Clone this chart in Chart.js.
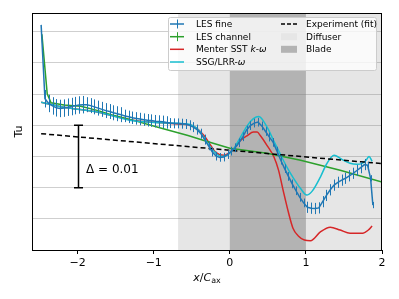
<!DOCTYPE html>
<html><head><meta charset="utf-8">
<script src="https://cdn.jsdelivr.net/npm/chart.js@4/dist/chart.umd.min.js"></script>
<style>html,body{margin:0;padding:0;background:#fff;}#wrap{width:399px;height:299px;}</style>
</head><body><div id="wrap"><canvas id="c" width="399" height="299"></canvas></div>
<script>
// ---------------- data ----------------
const seriesLabels = ['LES fine', 'LES channel', 'Menter SST k-ω', 'SSG/LRR-ω', 'Experiment (fit)'];
const regionLabels = ['Diffuser', 'Blade'];

const lesFineX = [-2.48,-2.43,-2.38,-2.33,-2.28,-2.23,-2.18,-2.13,-2.08,-2.03,-1.98,-1.93,-1.88,-1.83,-1.78,-1.73,-1.68,-1.63,-1.58,-1.53,-1.48,-1.43,-1.38,-1.33,-1.28,-1.23,-1.18,-1.13,-1.08,-1.03,-0.98,-0.93,-0.88,-0.83,-0.78,-0.73,-0.68,-0.63,-0.58,-0.53,-0.48,-0.43,-0.38,-0.33,-0.28,-0.23,-0.18,-0.13,-0.08,-0.03,0.02,0.07,0.12,0.17,0.22,0.27,0.32,0.37,0.42,0.47,0.52,0.57,0.62,0.67,0.72,0.77,0.82,0.87,0.92,0.97,1.02,1.07,1.12,1.17,1.22,1.27,1.32,1.37,1.42,1.47,1.52,1.57,1.62,1.67,1.72,1.77,1.81,1.85,1.88];
const lesFineTu = [0.0361,0.02425,0.0235,0.0231,0.0228,0.0227,0.02275,0.0229,0.0230,0.02315,0.02325,0.0233,0.0233,0.02315,0.02295,0.02275,0.02255,0.02235,0.0222,0.0220,0.02185,0.0217,0.0215,0.02135,0.0212,0.0211,0.0210,0.0209,0.0208,0.02075,0.02065,0.0206,0.02055,0.02045,0.02035,0.0203,0.0203,0.02025,0.0202,0.0200,0.0197,0.0193,0.01865,0.0177,0.0167,0.0157,0.01505,0.01485,0.0149,0.0153,0.01585,0.0164,0.0172,0.01815,0.01925,0.01995,0.02035,0.0205,0.0199,0.0190,0.0181,0.01725,0.01585,0.0144,0.01305,0.0118,0.0106,0.0095,0.00845,0.00755,0.00685,0.0067,0.00665,0.00675,0.00775,0.00875,0.00965,0.0104,0.01085,0.0112,0.0115,0.0119,0.0123,0.01275,0.0132,0.0137,0.0136,0.0115,0.0072];
const lesFineErr = [0,0.0014,0.0014,0.0014,0.0014,0.0014,0.0014,0.0014,0.0014,0.0014,0.0014,0.0014,0.0012,0.0012,0.0012,0.0012,0.0012,0.0012,0.0012,0.0012,0.0012,0.0012,0.001,0.001,0.001,0.001,0.001,0.001,0.001,0.001,0.001,0.001,0.001,0.001,0.0008,0.0008,0.0008,0.0008,0.0008,0.0008,0.0008,0.0008,0.0008,0.0008,0.0007,0.0007,0.0007,0.0007,0.0007,0.0007,0.0007,0.0007,0.0007,0.0007,0.0007,0.0007,0.0007,0.0007,0.0007,0.0007,0.0007,0.0007,0.0007,0.0007,0.0007,0.0007,0.0007,0.0007,0.0007,0.0007,0.0009,0.0009,0.0009,0.0009,0.0009,0.0009,0.0009,0.0009,0.0009,0.0009,0.0009,0.0009,0.0009,0.0009,0.0009,0.0009,0.0005,0.0005,0.0005];

const lesChannelX  = [-2.47,-2.40,-2.35,-2.18,-1.96,-1.73,-1.52,-1.30,-0.91,-0.55,-0.34,0.0,0.49,0.93,1.45,2.0];
const lesChannelTu = [0.0346,0.02505,0.0236,0.02325,0.02305,0.02235,0.02155,0.0209,0.01955,0.01835,0.01755,0.0163,0.0155,0.0144,0.0128,0.0109];

const menterX  = [-2.48,-2.18,-1.73,-1.30,-0.90,-0.61,-0.49,-0.43,-0.34,-0.25,-0.19,-0.08,0.03,0.14,0.23,0.31,0.36,0.40,0.49,0.58,0.64,0.70,0.77,0.83,0.90,0.98,1.06,1.19,1.32,1.45,1.58,1.75,1.82,1.87];
const menterTu = [0.0237,0.0229,0.0221,0.02085,0.0204,0.02015,0.01995,0.01945,0.01835,0.01675,0.0157,0.0152,0.01595,0.01755,0.01835,0.0189,0.0189,0.01835,0.01675,0.0149,0.0128,0.0096,0.00605,0.0035,0.00225,0.0016,0.0015,0.0029,0.00365,0.0032,0.0027,0.0027,0.0032,0.00385];

const ssgX  = [-2.48,-2.18,-1.73,-1.30,-0.90,-0.60,-0.50,-0.40,-0.30,-0.20,-0.12,-0.05,0.02,0.06,0.14,0.23,0.31,0.38,0.49,0.575,0.66,0.75,0.84,0.93,1.01,1.08,1.19,1.27,1.37,1.49,1.58,1.67,1.74,1.79,1.83,1.87];
const ssgTu = [0.0237,0.0229,0.0221,0.02075,0.0204,0.02025,0.0200,0.0191,0.01725,0.0157,0.0150,0.0151,0.01575,0.0164,0.0181,0.01995,0.02105,0.0214,0.0197,0.01755,0.01545,0.0133,0.01145,0.00985,0.0088,0.0094,0.0117,0.01375,0.0152,0.0144,0.0139,0.01375,0.0139,0.0144,0.0150,0.0142];

const expX  = [-2.48, 2.0];
const expTu = [0.01865, 0.01385];

const diffuserRange = [-0.68, 2.0];
const bladeRange = [0, 1];
const xTicks = [-2, -1, 0, 1, 2];
const yGrid = [0, 0.005, 0.01, 0.015, 0.02, 0.025, 0.03, 0.035];
const deltaBar = {x: -2, low: 0.01, high: 0.02, label: 'Δ = 0.01'};

// ---------------- helpers ----------------
const pts = (xs, ys) => xs.map((x, i) => ({x: x, y: ys[i]}));
const FONT = '"DejaVu Sans", "Liberation Sans", sans-serif';
const C_BLUE = '#1f77b4', C_GREEN = '#2ca02c', C_RED = '#d62728', C_CYAN = '#17becf';

const shadePlugin = {
  id: 'shade',
  beforeDatasetsDraw(chart) {
    const {ctx, chartArea: a, scales: {x}} = chart;
    ctx.save();
    ctx.beginPath(); ctx.rect(a.left, a.top, a.right - a.left, a.bottom - a.top); ctx.clip();
    let x0 = x.getPixelForValue(diffuserRange[0]), x1 = x.getPixelForValue(diffuserRange[1]);
    ctx.fillStyle = 'rgba(128,128,128,0.2)';
    ctx.fillRect(x0, a.top, x1 - x0 + 2, a.bottom - a.top);
    x0 = x.getPixelForValue(bladeRange[0]); x1 = x.getPixelForValue(bladeRange[1]);
    ctx.fillStyle = 'rgba(128,128,128,0.5)';
    ctx.fillRect(x0, a.top, x1 - x0, a.bottom - a.top);
    ctx.restore();
  }
};

const errPlugin = {
  id: 'errbars',
  afterDatasetDraw(chart, args) {
    if (args.index !== 0) return;
    const {ctx, scales: {y}} = chart;
    const meta = args.meta;
    ctx.save();
    ctx.strokeStyle = C_BLUE; ctx.lineWidth = 1;
    meta.data.forEach((p, i) => {
      const e = lesFineErr[i];
      if (!e) return;
      const px = Math.round(p.x) + 0.5;
      ctx.beginPath();
      ctx.moveTo(px, y.getPixelForValue(lesFineTu[i] - e));
      ctx.lineTo(px, y.getPixelForValue(lesFineTu[i] + e));
      ctx.stroke();
    });
    ctx.restore();
  }
};

function drawSegs(ctx, segs, x, y, size) {
  let cx = x;
  segs.forEach(s => {
    const sz = s.sub ? size * 0.72 : size;
    ctx.font = (s.it ? 'italic ' : '') + sz + 'px ' + FONT;
    ctx.fillText(s.t, cx, y + (s.sub ? size * 0.22 : 0));
    cx += ctx.measureText(s.t).width;
  });
  return cx - x;
}
function segsWidth(ctx, segs, size) {
  let w = 0;
  segs.forEach(s => {
    const sz = s.sub ? size * 0.72 : size;
    ctx.font = (s.it ? 'italic ' : '') + sz + 'px ' + FONT;
    w += ctx.measureText(s.t).width;
  });
  return w;
}
function labelSegs(label) {
  // italicise k and ω in turbulence model names
  const out = [];
  const re = /(\bk(?=-))|(ω)/g;
  let last = 0, m;
  while ((m = re.exec(label)) !== null) {
    if (m.index > last) out.push({t: label.slice(last, m.index)});
    out.push({t: m[0], it: true});
    last = m.index + m[0].length;
  }
  if (last < label.length) out.push({t: label.slice(last)});
  return out;
}

const annotPlugin = {
  id: 'annot',
  afterDraw(chart) {
    const {ctx, chartArea: a, scales: {x, y}} = chart;
    ctx.save();
    // frame
    ctx.strokeStyle = '#000'; ctx.lineWidth = 1;
    ctx.strokeRect(Math.round(a.left) + 0.5, Math.round(a.top) + 0.5, Math.round(a.right - a.left) - 1, Math.round(a.bottom - a.top));

    // delta bar
    const bx = Math.round(x.getPixelForValue(deltaBar.x)) + 0.5;
    const yl = y.getPixelForValue(deltaBar.low), yh = y.getPixelForValue(deltaBar.high);
    ctx.strokeStyle = '#000'; ctx.lineWidth = 1.5;
    ctx.beginPath();
    ctx.moveTo(bx, yl); ctx.lineTo(bx, yh);
    ctx.moveTo(bx - 4.5, yl); ctx.lineTo(bx + 4.5, yl);
    ctx.moveTo(bx - 4.5, yh); ctx.lineTo(bx + 4.5, yh);
    ctx.stroke();
    ctx.fillStyle = '#000';
    ctx.textBaseline = 'alphabetic'; ctx.textAlign = 'left';
    ctx.font = '12px ' + FONT;
    ctx.fillText(deltaBar.label, bx + 7.5, (yl + yh) / 2 + 17);

    // axis titles
    ctx.save();
    ctx.translate(22, (a.top + a.bottom) / 2);
    ctx.rotate(-Math.PI / 2);
    ctx.textAlign = 'center';
    ctx.font = '11px ' + FONT;
    ctx.fillText('Tu', 0, 0);
    ctx.restore();
    const xl = [{t: 'x', it: true}, {t: '/'}, {t: 'C', it: true}, {t: 'ax', sub: true}];
    const w = segsWidth(ctx, xl, 11);
    ctx.textAlign = 'left';
    drawSegs(ctx, xl, (a.left + a.right) / 2 - w / 2, 281, 11);

    // legend
    const lx = 168.5, ly = 17.5, lw = 208, lh = 53;
    ctx.fillStyle = 'rgba(255,255,255,0.8)';
    ctx.strokeStyle = '#cccccc'; ctx.lineWidth = 1;
    ctx.beginPath();
    if (ctx.roundRect) ctx.roundRect(lx, ly, lw, lh, 2); else ctx.rect(lx, ly, lw, lh);
    ctx.fill(); ctx.stroke();
    const rows = [24, 36.7, 49.3, 62];
    const col1 = [
      {lab: seriesLabels[0], c: C_BLUE, err: true},
      {lab: seriesLabels[1], c: C_GREEN, err: true},
      {lab: seriesLabels[2], c: C_RED},
      {lab: seriesLabels[3], c: C_CYAN}
    ];
    col1.forEach((it, i) => {
      const yy = rows[i];
      ctx.strokeStyle = it.c; ctx.lineWidth = 1.5;
      ctx.beginPath(); ctx.moveTo(170, yy); ctx.lineTo(184, yy); ctx.stroke();
      if (it.err) {
        ctx.lineWidth = 1;
        ctx.beginPath(); ctx.moveTo(177.5, yy - 4.5); ctx.lineTo(177.5, yy + 4.5); ctx.stroke();
      }
      ctx.fillStyle = '#000';
      ctx.textBaseline = 'middle';
      drawSegs(ctx, labelSegs(it.lab), 196, yy + 0.5, 9);
    });
    // col 2
    ctx.strokeStyle = '#000'; ctx.lineWidth = 1.5; ctx.setLineDash([4, 2]);
    ctx.beginPath(); ctx.moveTo(281, rows[0]); ctx.lineTo(297, rows[0]); ctx.stroke();
    ctx.setLineDash([]);
    ctx.fillStyle = '#e6e6e6'; ctx.fillRect(281, rows[1] - 3.5, 16, 7);
    ctx.fillStyle = '#b3b3b3'; ctx.fillRect(281, rows[2] - 3.5, 16, 7);
    ctx.fillStyle = '#000';
    [seriesLabels[4], regionLabels[0], regionLabels[1]].forEach((t, i) => {
      drawSegs(ctx, [{t: t}], 306, rows[i] + 0.5, 9);
    });
    ctx.restore();
  }
};

new Chart(document.getElementById('c'), {
  type: 'line',
  data: {
    datasets: [
      {label: seriesLabels[0], data: pts(lesFineX, lesFineTu), borderColor: C_BLUE, borderWidth: 1.5, pointRadius: 0, tension: 0, order: 0},
      {label: seriesLabels[1], data: pts(lesChannelX, lesChannelTu), borderColor: C_GREEN, borderWidth: 1.5, pointRadius: 0, tension: 0, order: 3},
      {label: seriesLabels[2], data: pts(menterX, menterTu), borderColor: C_RED, borderWidth: 1.5, pointRadius: 0, cubicInterpolationMode: 'monotone', order: 4},
      {label: seriesLabels[3], data: pts(ssgX, ssgTu), borderColor: C_CYAN, borderWidth: 1.5, pointRadius: 0, cubicInterpolationMode: 'monotone', order: 2},
      {label: seriesLabels[4], data: pts(expX, expTu), borderColor: '#000', borderWidth: 1.5, borderDash: [5, 3], pointRadius: 0, tension: 0, order: 1}
    ]
  },
  options: {
    responsive: false,
    animation: false,
    devicePixelRatio: 1,
    parsing: true,
    layout: {padding: {top: 13, right: 17, left: 0, bottom: 0}},
    plugins: {legend: {display: false}, tooltip: {enabled: false}, title: {display: false}},
    scales: {
      x: {
        type: 'linear', min: -2.6, max: 2.0,
        afterBuildTicks: s => { s.ticks = xTicks.map(v => ({value: v})); },
        afterFit: s => { s.height = 49; },
        ticks: {color: '#000', font: {size: 11, family: FONT}, padding: 3, maxRotation: 0,
                callback: v => String(v).replace('-', '\u2212')},
        grid: {drawOnChartArea: false, drawTicks: true, tickLength: 4, color: '#000'},
        border: {display: true, color: '#000'}
      },
      y: {
        type: 'linear', min: 0, max: 0.038,
        afterBuildTicks: s => { s.ticks = yGrid.map(v => ({value: v})); },
        afterFit: s => { s.width = 32; },
        ticks: {display: false},
        grid: {color: '#cfcfcf', lineWidth: 1, drawTicks: false},
        border: {display: true, color: '#000'}
      }
    }
  },
  plugins: [shadePlugin, errPlugin, annotPlugin]
});
</script>
</body></html>
